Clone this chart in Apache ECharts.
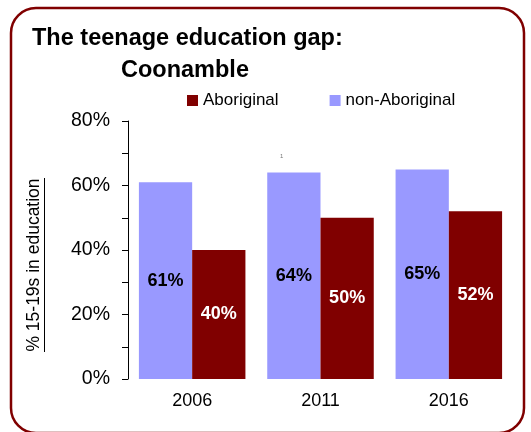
<!DOCTYPE html>
<html><head><meta charset="utf-8">
<script src="https://cdn.jsdelivr.net/npm/echarts@6/dist/echarts.min.js"></script>
<style>html,body{margin:0;padding:0;background:#fff}#c{width:531px;height:432px}</style>
</head><body><div id="c"></div>
<script>
const categories = ['2006', '2011', '2016'];
const nonAboriginal = [61, 64, 65];
const aboriginal = [40, 50, 52];
const yTicks = [0, 20, 40, 60, 80];
const yAxisTitle = '% 15-19s in education';

const chart = echarts.init(document.getElementById('c'), null, {renderer: 'canvas'});
const F = 'Liberation Sans, Arial, sans-serif';
chart.setOption({
  animation: false,
  backgroundColor: '#fff',
  title: [
    {text: 'The teenage education gap:', left: 27, top: 22, textStyle: {fontFamily: F, fontSize: 23.5, fontWeight: 'bold', color: '#000'}},
    {text: 'Coonamble', left: 116, top: 54, textStyle: {fontFamily: F, fontSize: 23.5, fontWeight: 'bold', color: '#000'}}
  ],
  legend: {
    data: ['Aboriginal', 'non-Aboriginal'],
    left: 182, top: 87, itemWidth: 11, itemHeight: 11, itemGap: 51, icon: 'rect',
    textStyle: {fontFamily: F, fontSize: 17, color: '#000'}
  },
  grid: {left: 128, right: 18, top: 121, bottom: 53},
  xAxis: {
    type: 'category', data: categories,
    axisLine: {show: false}, axisTick: {show: false},
    axisLabel: {fontFamily: F, fontSize: 18, color: '#000', margin: 13}
  },
  yAxis: {
    type: 'value', min: yTicks[0], max: yTicks[yTicks.length - 1], interval: 20,
    axisLine: {show: true, lineStyle: {color: '#000', width: 1}},
    axisTick: {show: true, length: 6, lineStyle: {color: '#000'}},
    minorTick: {show: true, splitNumber: 2, length: 6, lineStyle: {color: '#000'}},
    splitLine: {show: false},
    axisLabel: {fontFamily: F, fontSize: 19.5, color: '#000', margin: 18, formatter: v => v + '%'}
  },
  series: [
    {name: 'non-Aboriginal', type: 'bar', data: nonAboriginal, barGap: '0%', barCategoryGap: '17%',
     itemStyle: {color: '#9999FF'},
     label: {show: true, position: 'inside', formatter: p => p.value + '%', fontFamily: F, fontSize: 18, fontWeight: 'bold', color: '#000'}},
    {name: 'Aboriginal', type: 'bar', data: aboriginal, barGap: '0%', barCategoryGap: '17%',
     itemStyle: {color: '#800000'},
     label: {show: true, position: 'inside', formatter: p => p.value + '%', fontFamily: F, fontSize: 18, fontWeight: 'bold', color: '#fff'}}
  ],
  graphic: [
    {type: 'rect', shape: {x: 11, y: 8, width: 513, height: 425, r: 25}, style: {fill: 'none', stroke: '#800000', lineWidth: 2.5}, z: 10},
    {type: 'text', x: 34, y: 265, rotation: Math.PI / 2,
     style: {text: yAxisTitle, fontFamily: F, fontSize: 17.5, fill: '#000', align: 'center', verticalAlign: 'middle'}},
    {type: 'line', shape: {x1: 44.5, y1: 178, x2: 44.5, y2: 352}, style: {stroke: '#000', lineWidth: 1}},
    {type: 'text', left: 280, top: 153, style: {text: '1', fontSize: 6, fill: '#777', fontFamily: F}}
  ]
});
</script></body></html>
